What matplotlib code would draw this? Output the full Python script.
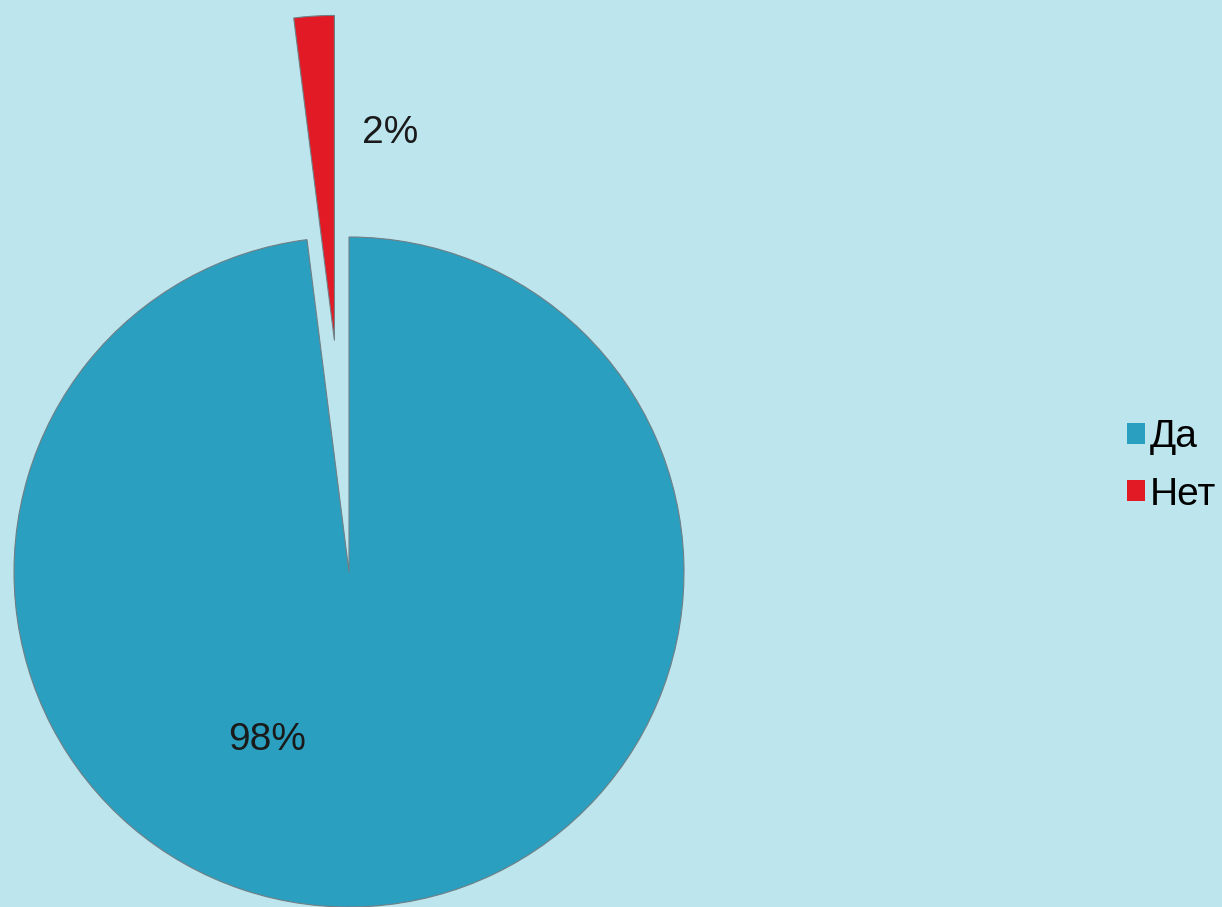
import matplotlib.pyplot as plt

plt.rcParams['font.family'] = ['Liberation Sans', 'DejaVu Sans']

labels = ["Да", "Нет"]
values = [98, 2]
colors = ["#2b9fbf", "#e11a26"]

fig = plt.figure(figsize=(12.22, 9.07), dpi=100)
fig.patch.set_facecolor("#bde5ee")
ax = fig.add_axes([0, 0, 1, 1])
ax.set_facecolor("#bde5ee")

# explode is in data units here (pie radius is 335 px-units)
wedges, _ = ax.pie(values, colors=colors, startangle=90 + 360 * values[1] / 100,
                   counterclock=True, radius=335, center=(349, 335),
                   explode=[0, 232], frame=True,
                   wedgeprops=dict(edgecolor="#6f7f85", linewidth=0.8))
wedges[1].set_radius(325)
ax.set_xlim(0, 1222)
ax.set_ylim(0, 907)
ax.set_aspect("equal")
ax.axis("off")

ax.text(267, 907 - 740, f"{values[0]}%", fontsize=28, ha="center", va="center", color="#1a1a1a")
ax.text(390, 907 - 133, f"{values[1]}%", fontsize=28, ha="center", va="center", color="#1a1a1a")

leg = ax.legend(wedges, labels, loc="center left", bbox_to_anchor=(1108 / 1222, 1 - 466 / 907),
                frameon=False, fontsize=28, handlelength=0.45, handleheight=0.45,
                handletextpad=0.12, labelspacing=0.55, borderpad=0)
for h in leg.legend_handles:
    h.set_edgecolor("none")

plt.savefig("out.png", dpi=100, facecolor=fig.get_facecolor())
